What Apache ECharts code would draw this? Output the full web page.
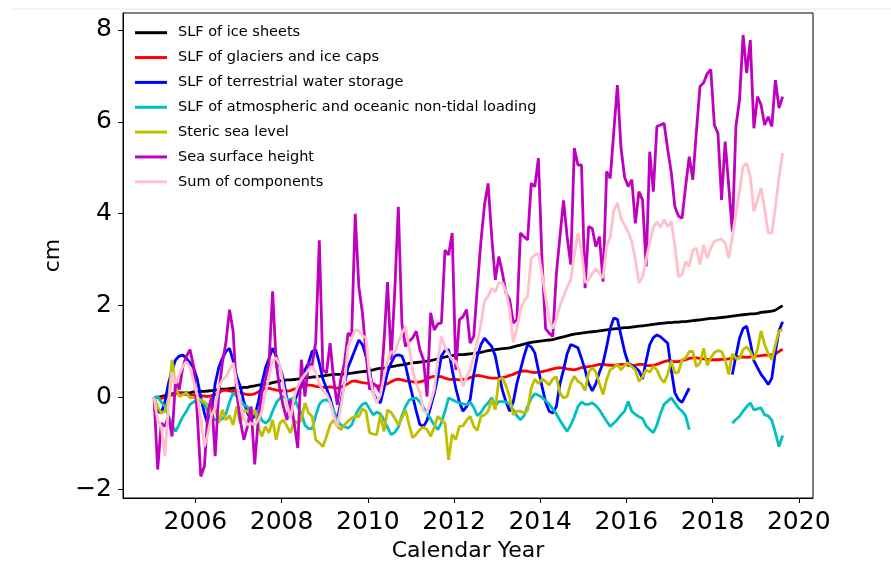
<!DOCTYPE html>
<html>
<head>
<meta charset="utf-8">
<script src="https://cdn.jsdelivr.net/npm/echarts@6/dist/echarts.min.js"></script>
<style>
  html, body { margin: 0; padding: 0; background: #ffffff; }
  #chart { width: 891px; height: 563px; }
</style>
</head>
<body>
<div id="chart"></div>
<script>
// Sea level budget components, monthly values in cm, Jan 2005 – Aug 2019.
const seriesNames = [
  'SLF of ice sheets',
  'SLF of glaciers and ice caps',
  'SLF of terrestrial water storage',
  'SLF of atmospheric and oceanic non-tidal loading',
  'Steric sea level',
  'Sea surface height',
  'Sum of components'
];
const seriesColors = ['#000000', '#ff0000', '#0000ff', '#00bfbf', '#bfbf00', '#bf00bf', '#ffc0cb'];
const yearTicks = [2006, 2008, 2010, 2012, 2014, 2016, 2018, 2020];
const cmTicks = [-2, 0, 2, 4, 6, 8];
const firstYear = 2005;

// one row per calendar year
const iceSheets = [
  0, 0.0, 0.02, 0.04, 0.06, 0.08, 0.1, 0.1, 0.1, 0.1, 0.1, 0.12,
  0.12, 0.13, 0.13, 0.14, 0.15, 0.16, 0.17, 0.18, 0.18, 0.19, 0.2, 0.2,
  0.21, 0.22, 0.22, 0.24, 0.25, 0.27, 0.28, 0.29, 0.3, 0.32, 0.34, 0.36,
  0.37, 0.38, 0.38, 0.39, 0.4, 0.41, 0.42, 0.43, 0.44, 0.45, 0.46, 0.47,
  0.48, 0.49, 0.5, 0.5, 0.5, 0.51, 0.52, 0.53, 0.54, 0.55, 0.56, 0.57,
  0.58, 0.6, 0.62, 0.63, 0.64, 0.66, 0.67, 0.68, 0.7, 0.71, 0.72, 0.74,
  0.75, 0.76, 0.77, 0.78, 0.79, 0.8, 0.82, 0.84, 0.86, 0.88, 0.9, 0.91,
  0.92, 0.93, 0.93, 0.94, 0.95, 0.96, 0.97, 0.98, 1.0, 1.02, 1.03, 1.04,
  1.05, 1.06, 1.07, 1.08, 1.1, 1.12, 1.14, 1.16, 1.18, 1.2, 1.21, 1.22,
  1.23, 1.24, 1.25, 1.26, 1.28, 1.3, 1.32, 1.34, 1.36, 1.38, 1.39, 1.4,
  1.41, 1.42, 1.43, 1.44, 1.45, 1.46, 1.47, 1.48, 1.49, 1.5, 1.51, 1.52,
  1.52, 1.53, 1.54, 1.55, 1.56, 1.57, 1.58, 1.59, 1.6, 1.61, 1.62, 1.63,
  1.63, 1.64, 1.64, 1.65, 1.65, 1.66, 1.67, 1.68, 1.69, 1.7, 1.71, 1.72,
  1.72, 1.73, 1.74, 1.75, 1.76, 1.77, 1.78, 1.79, 1.8, 1.81, 1.82, 1.82,
  1.83, 1.85, 1.86, 1.87, 1.88, 1.9, 1.95, 2.0
];

const glaciers = [
  0, 0.0, -0.02, 0.0, 0.03, 0.05, 0.08, 0.1, 0.08, 0.06, 0.05, 0.05,
  0.05, 0.04, 0.03, 0.02, 0.04, 0.06, 0.1, 0.15, 0.16, 0.14, 0.13, 0.12,
  0.1, 0.08, 0.06, 0.06, 0.08, 0.12, 0.17, 0.2, 0.2, 0.18, 0.16, 0.15,
  0.14, 0.14, 0.15, 0.18, 0.2, 0.22, 0.25, 0.27, 0.26, 0.24, 0.23, 0.22,
  0.22, 0.23, 0.22, 0.2, 0.22, 0.26, 0.3, 0.35, 0.36, 0.34, 0.32, 0.31,
  0.3, 0.28, 0.25, 0.25, 0.27, 0.3, 0.34, 0.38, 0.4, 0.38, 0.36, 0.35,
  0.34, 0.33, 0.34, 0.36, 0.4, 0.44, 0.46, 0.46, 0.45, 0.42, 0.4, 0.39,
  0.39, 0.38, 0.39, 0.4, 0.43, 0.46, 0.48, 0.47, 0.45, 0.43, 0.42, 0.42,
  0.42, 0.43, 0.45, 0.48, 0.5, 0.54, 0.57, 0.58, 0.57, 0.55, 0.54, 0.55,
  0.56, 0.58, 0.6, 0.62, 0.64, 0.65, 0.64, 0.62, 0.61, 0.6, 0.62, 0.65,
  0.66, 0.67, 0.68, 0.7, 0.72, 0.72, 0.71, 0.7, 0.7, 0.71, 0.72, 0.72,
  0.7, 0.69, 0.7, 0.72, 0.72, 0.7, 0.69, 0.7, 0.72, 0.75, 0.78, 0.8,
  0.79, 0.78, 0.78, 0.8, 0.82, 0.85, 0.86, 0.86, 0.85, 0.84, 0.83, 0.82,
  0.82, 0.82, 0.83, 0.83, 0.84, 0.85, 0.87, 0.88, 0.88, 0.87, 0.88, 0.9,
  0.9, 0.91, 0.92, 0.92, 0.93, 0.95, 1.0, 1.05
];

// null marks the months without gravity data (mid 2017 – mid 2018)
const waterStorage = [
  0, -0.3, -0.34, -0.1, 0.3, 0.6, 0.82, 0.9, 0.92, 0.85, 0.75, 0.65,
  0.4, 0.0, -0.34, -0.6, -0.3, 0.3, 0.65, 0.85, 1.0, 1.07, 0.8, 0.45,
  0.24, -0.1, -0.34, -0.49, -0.4, -0.1, 0.3, 0.64, 0.85, 1.07, 0.9, 0.67,
  0.4, -0.05, -0.3, -0.1, 0.1, 0.25, 0.6, 0.75, 1.0, 1.04, 0.75, 0.4,
  0.2, -0.01, -0.3, -0.49, -0.1, 0.3, 0.65, 0.85, 1.05, 1.25, 1.15, 0.9,
  0.6, 0.1, -0.05, -0.12, 0.2, 0.55, 0.75, 0.9, 0.93, 0.9, 0.7, 0.35,
  0.02, -0.3, -0.59, -0.63, -0.5, -0.2, 0.08, 0.45, 0.9, 1.02, 1.04, 0.6,
  0.2, -0.1, -0.3, -0.2, -0.05, 0.5, 0.9, 1.15, 1.29, 1.2, 1.11, 0.9,
  0.5, 0.15, -0.1, -0.3, -0.1, 0.3, 0.6, 0.9, 1.15, 1.1, 0.97, 0.6,
  0.24, -0.1, -0.3, -0.34, -0.2, 0.3, 0.6, 0.95, 1.15, 1.12, 1.08, 0.85,
  0.6, 0.3, 0.14, 0.3, 0.55, 0.75, 1.1, 1.5, 1.73, 1.7, 1.35, 1.0,
  0.75, 0.7, 0.65, 0.58, 0.4, 0.8, 1.15, 1.3, 1.36, 1.32, 1.25, 1.18,
  0.6, 0.1, -0.05, -0.11, 0.05, 0.2, null, null, null, null, null, null,
  null, null, null, null, null, 0.5, 0.9, 1.29, 1.5, 1.55, 1.2, 0.8,
  0.65, 0.5, 0.4, 0.28, 0.42, 1.0, 1.45, 1.65
];

const loading = [
  0, 0.02, -0.1, -0.2, -0.4, -0.6, -0.74, -0.58, -0.42, -0.3, -0.15, -0.1,
  -0.05, -0.08, -0.15, -0.3, -0.4, -0.49, -0.49, -0.47, -0.36, -0.1, 0.1, 0.02,
  -0.05, -0.17, -0.2, -0.35, -0.3, -0.3, -0.5, -0.56, -0.5, -0.3, -0.12, -0.02,
  0.02, -0.03, -0.05, 0.0, -0.2, -0.35, -0.6, -0.68, -0.68, -0.4, -0.15, -0.07,
  -0.05, -0.1, -0.3, -0.5, -0.6, -0.64, -0.67, -0.6, -0.4, -0.25, -0.15, -0.12,
  -0.25, -0.38, -0.32, -0.36, -0.48, -0.65, -0.81, -0.76, -0.65, -0.4, -0.2, -0.06,
  -0.03, -0.01, -0.1, -0.22, -0.35, -0.47, -0.6, -0.7, -0.55, -0.3, -0.01, -0.05,
  -0.09, -0.12, -0.14, -0.16, -0.1, -0.22, -0.4, -0.33, -0.2, -0.12, -0.01, -0.18,
  -0.09, -0.09, -0.1, -0.15, -0.27, -0.4, -0.49, -0.4, -0.2, -0.02, 0.08, 0.05,
  0.0, -0.07, -0.15, -0.25, -0.36, -0.5, -0.62, -0.74, -0.6, -0.42, -0.2, -0.1,
  -0.15, -0.15, -0.12, -0.18, -0.27, -0.4, -0.52, -0.63, -0.56, -0.48, -0.38, -0.3,
  -0.09, -0.3, -0.37, -0.42, -0.46, -0.62, -0.7, -0.77, -0.6, -0.35, -0.15, -0.08,
  -0.01, -0.12, -0.23, -0.3, -0.4, -0.7, null, null, null, null, null, null,
  null, null, null, null, null, -0.56, -0.48, -0.41, -0.3, -0.2, -0.12, -0.27,
  -0.25, -0.23, -0.38, -0.4, -0.5, -0.77, -1.07, -0.83
];

const steric = [
  0, -0.2, -0.34, -0.3, -0.1, 0.82, 0.2, 0.02, 0.06, 0.1, -0.01, 0.0,
  -0.03, -0.05, -0.1, -0.15, -0.34, -0.23, -0.56, -0.27, -0.49, -0.4, -0.6, -0.2,
  -0.56, -0.27, -0.3, -0.41, -0.27, -0.63, -0.85, -0.63, -0.77, -0.49, -0.92, -0.56,
  -0.49, -0.63, -0.77, -0.5, -0.56, -0.49, -0.12, -0.34, -0.41, -0.92, -0.99, -1.07,
  -0.85, -0.6, -0.49, -0.63, -0.7, -0.6, -0.52, -0.45, -0.41, -0.42, -0.25, -0.3,
  -0.77, -0.8, -0.81, -0.38, -0.74, -0.27, -0.33, -0.45, -0.6, -0.45, -0.27, -0.6,
  -0.88, -0.8, -0.7, -0.65, -0.7, -0.85, -0.65, -0.41, -0.5, -0.56, -1.36, -0.8,
  -0.92, -0.63, -0.62, -0.5, -0.41, -0.63, -0.72, -0.41, -0.38, -0.3, -0.05, -0.27,
  0.4, 0.42, 0.25, 0.0, -0.38, -0.3, -0.3, -0.34, -0.28, 0.2, 0.4, 0.3,
  0.4, 0.35, 0.27, 0.4, 0.45, 0.1, -0.01, 0.02, 0.3, 0.46, 0.35, 0.3,
  0.15, 0.55, 0.65, 0.55, 0.3, 0.06, 0.39, 0.6, 0.65, 0.72, 0.6, 0.7,
  0.75, 0.67, 0.6, 0.35, 0.45, 0.6, 0.55, 0.68, 0.6, 0.42, 0.32, 0.5,
  0.8, 0.53, 0.55, 0.82, 0.86, 1.0, 1.0, 0.67, 0.75, 1.07, 0.7, 0.86,
  0.98, 1.02, 1.0, 0.82, 0.5, 0.95, 0.85, 0.85, 1.04, 1.1, 1.0, 0.82,
  1.05, 1.45, 1.15, 0.95, 0.82, 1.15, 1.45, 1.47
];

const seaSurface = [
  0, -1.57, -0.56, -0.63, -0.41, -0.85, 0.39, 0.17, 0.67, 0.9, 1.04, 0.67,
  -0.34, -1.72, -1.5, -0.3, 0.0, -1.28, 0.1, 0.75, 1.2, 1.91, 1.44, 0.1,
  -0.5, -0.92, -0.63, -0.2, -1.46, -0.49, 0.1, 0.39, 0.75, 2.31, 0.75, 0.17,
  -0.2, -0.49, -0.05, -0.56, -1.1, 0.82, 0.02, 0.75, 0.7, 1.2, 3.42, 0.6,
  0.53, 1.18, 0.39, -0.16, 0.4, 0.75, 1.4, 1.33, 4.0, 2.41, 1.84, 0.97,
  0.17, 0.31, 0.24, 0.1, 1.2, 2.51, 0.82, 2.3, 4.15, 1.6, 1.11, 1.22,
  1.3, 1.44, 1.04, 0.82, 0.02, 1.84, 1.47, 1.6, 1.62, 3.21, 3.1, 3.58,
  0.6, 1.69, 1.76, 1.91, 1.18, 1.33, 2.4, 3.4, 4.2, 4.66, 3.5, 2.56,
  3.07, 2.7, 2.27, 2.13, 1.62, 1.69, 3.58, 3.5, 3.43, 4.66, 4.59, 5.21,
  3.0, 1.5, 1.4, 1.33, 2.69, 3.5, 4.29, 3.5, 2.89, 5.43, 5.06, 5.06,
  2.38, 3.72, 3.68, 3.28, 3.5, 2.52, 4.92, 4.77, 5.8, 6.8, 5.43, 4.8,
  4.59, 4.74, 3.79, 4.48, 4.3, 2.85, 5.35, 4.48, 5.9, 5.93, 5.97, 5.4,
  4.9, 4.15, 3.95, 3.9, 4.6, 5.24, 4.74, 5.8, 6.77, 6.85, 7.05, 7.14,
  5.93, 5.75, 4.3, 5.57, 4.6, 3.61, 5.9, 6.48, 7.89, 7.06, 7.78, 5.86,
  6.55, 6.37, 5.93, 6.11, 5.9, 6.91, 6.3, 6.55
];

const componentSum = [
  0, -0.5, -0.63, -1.28, -0.2, 0.55, 0.3, 0.5, 0.68, 0.78, 0.65, 0.35,
  0.05, -0.45, -1.07, -0.78, -0.38, -0.23, 0.24, 0.38, 0.45, 0.6, 0.75, 0.31,
  -0.12, -0.45, -0.6, -0.56, -0.6, -0.5, -0.3, 0.1, 0.45, 0.8, 0.86, 0.71,
  0.24, -0.15, -0.45, 0.0, 0.25, 0.4, 0.5, 0.6, 0.67, 0.55, 0.3, 0.15,
  0.08, -0.1, -0.4, -0.63, -0.2, 0.3, 1.1, 1.3, 1.47, 1.45, 1.35, 1.29,
  0.5, 0.1, -0.12, 0.05, 0.45, 0.8, 1.0, 0.97, 1.2, 1.4, 1.54, 1.1,
  0.6, 0.3, 0.1, -0.3, -0.34, -0.1, 0.17, 0.8, 1.33, 1.1, 0.95, 0.82,
  0.78, 0.6, 0.24, 0.45, 0.6, 0.9, 1.2, 1.6, 2.1, 2.2, 2.38, 2.3,
  2.5, 2.49, 2.3, 1.9, 1.2, 1.5, 1.91, 2.1, 2.2, 3.03, 3.1, 3.14,
  2.7, 2.2, 1.7, 1.5, 1.7, 2.0, 2.2, 2.4, 2.56, 3.1, 3.58, 3.2,
  2.5, 2.56, 2.7, 2.8, 2.7, 2.6, 3.28, 3.5, 4.08, 4.23, 3.9, 3.75,
  3.6, 3.4, 3.0, 2.49, 2.63, 3.0, 3.36, 3.7, 3.82, 3.7, 3.87, 3.72,
  3.83, 3.3, 2.63, 2.67, 2.96, 2.85, 3.21, 3.25, 2.89, 3.32, 3.03, 3.25,
  3.4, 3.43, 3.45, 3.36, 3.03, 3.5, 4.0, 4.5, 5.03, 5.1, 4.81, 4.05,
  4.3, 4.56, 4.1, 3.58, 3.58, 4.15, 4.8, 5.32
];

const seriesValues = [iceSheets, glaciers, waterStorage, loading, steric, seaSurface, componentSum];

// mid-month decimal year for each sample
function monthPairs(values) {
  return values.map((v, i) => [firstYear + (i + 0.5) / 12, v === null ? '-' : v]);
}

const FONT = 'DejaVu Sans';
const chart = echarts.init(document.getElementById('chart'), null, { renderer: 'canvas' });

chart.setOption({
  animation: false,
  backgroundColor: '#ffffff',
  graphic: [{
    type: 'line',
    shape: { x1: 12, y1: 9, x2: 891, y2: 9 },
    style: { stroke: '#e4e4e4', lineWidth: 1 },
    silent: true
  }],
  grid: {
    left: 123, right: 78, top: 13, bottom: 65,
    outerBoundsMode: 'none',
    containLabel: false,
    show: true, borderColor: '#000000', borderWidth: 1, backgroundColor: 'transparent'
  },
  legend: {
    data: seriesNames,
    orient: 'vertical',
    left: 135, top: 24.7,
    padding: 0,
    itemGap: 8.85,
    itemWidth: 32, itemHeight: 3,
    icon: 'rect',
    selectedMode: false,
    textStyle: { fontFamily: FONT, fontSize: 14.5, color: '#000000', lineHeight: 16, padding: [0, 0, 0, 6] }
  },
  xAxis: {
    type: 'value',
    min: 2004.32, max: 2020.33,
    name: 'Calendar Year',
    nameLocation: 'middle',
    nameGap: 41,
    nameTextStyle: { fontFamily: FONT, fontSize: 22, color: '#000000' },
    axisLine: { show: true, onZero: false, lineStyle: { color: '#000000', width: 1 } },
    axisTick: { show: true, inside: false, length: 5, customValues: yearTicks, lineStyle: { color: '#000000', width: 1 } },
    axisLabel: {
      customValues: yearTicks, margin: 12, fontFamily: FONT, fontSize: 25, color: '#000000',
      formatter: v => String(v)
    },
    splitLine: { show: false }
  },
  yAxis: {
    type: 'value',
    min: -2.19, max: 8.37,
    name: 'cm',
    nameLocation: 'middle',
    nameRotate: 90,
    nameGap: 46,
    nameTextStyle: { fontFamily: FONT, fontSize: 22, color: '#000000' },
    axisLine: { show: true, onZero: false, lineStyle: { color: '#000000', width: 1 } },
    axisTick: { show: true, inside: false, length: 5, customValues: cmTicks, lineStyle: { color: '#000000', width: 1 } },
    axisLabel: {
      customValues: cmTicks, margin: 11, fontFamily: FONT, fontSize: 25, color: '#000000',
      formatter: v => String(v).replace('-', '\u2212')
    },
    splitLine: { show: false }
  },
  series: seriesNames.map((name, i) => ({
    name: name,
    type: 'line',
    data: monthPairs(seriesValues[i]),
    showSymbol: false,
    symbol: 'none',
    connectNulls: false,
    color: seriesColors[i],
    lineStyle: { color: seriesColors[i], width: 2.8 },
    emphasis: { disabled: true },
    z: 2 + i
  }))
});
</script>
</body>
</html>
